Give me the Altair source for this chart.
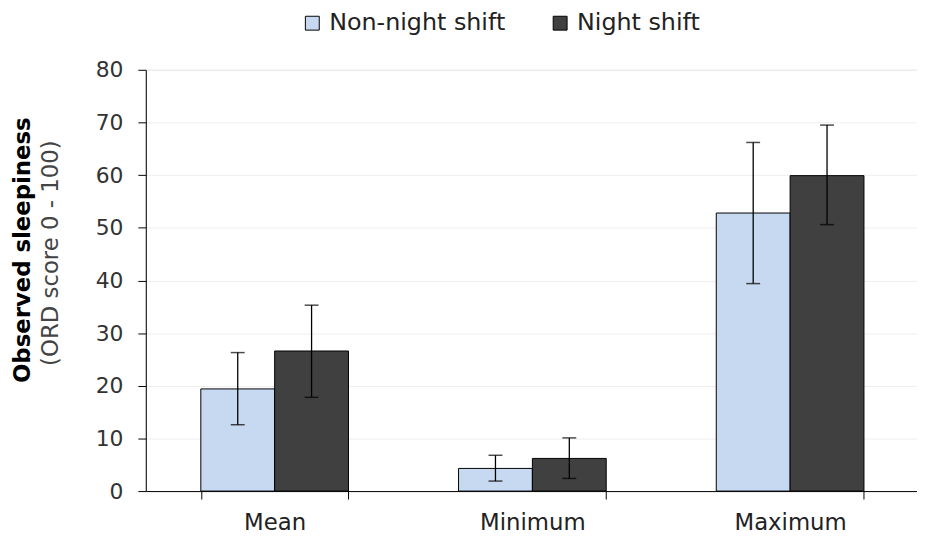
import altair as alt
import pandas as pd

categories = ["Mean", "Minimum", "Maximum"]
groups = ["Non-night shift", "Night shift"]
non_night = [19.4, 4.3, 52.8]
non_night_lo = [12.6, 1.9, 39.4]
non_night_hi = [26.3, 6.8, 66.2]
night = [26.6, 6.2, 59.9]
night_lo = [17.8, 2.4, 50.6]
night_hi = [35.3, 10.1, 69.5]

rows = []
for i, c in enumerate(categories):
    rows.append({"cat": c, "group": groups[0], "v": non_night[i], "lo": non_night_lo[i], "hi": non_night_hi[i]})
    rows.append({"cat": c, "group": groups[1], "v": night[i], "lo": night_lo[i], "hi": night_hi[i]})
df = pd.DataFrame(rows)

FONT = "DejaVu Sans"
W, H = 778, 425

x = alt.X("cat:N", sort=categories, title=None,
          scale=alt.Scale(paddingInner=0.427, paddingOuter=0.2135, range=[0, 780]),
          axis=alt.Axis(labelAngle=0, labelFontSize=23, labelColor="#222", labelFont=FONT,
                        tickBand="extent", tickSize=8, tickColor="black", domainColor="black",
                        labelPadding=13, grid=False))
xo = alt.XOffset("group:N", sort=groups)
y = alt.Y("v:Q", title=None,
          scale=alt.Scale(domain=[0, 80]),
          axis=alt.Axis(values=list(range(0, 81, 10)), labelFontSize=22, labelColor="#333", labelFont=FONT,
                        tickSize=8, tickColor="black", domainColor="black", labelPadding=15,
                        gridColor="#eeeeee", grid=True))

base = alt.Chart(df)
bars = base.mark_bar(stroke="black", strokeWidth=1).encode(
    x=x, xOffset=xo, y=y,
    color=alt.Color("group:N", sort=groups,
                    scale=alt.Scale(domain=groups, range=["#c6d9f1", "#404040"]),
                    legend=alt.Legend(title=None, orient="none", direction="horizontal",
                                      legendX=156, legendY=-59, symbolType="square", symbolSize=196,
                                      symbolStrokeColor="black", symbolStrokeWidth=1,
                                      labelFontSize=24, labelFont=FONT, labelColor="#222",
                                      labelLimit=400, columnPadding=43, labelOffset=5))
)
rules = base.mark_rule(color="black", strokeWidth=1.3).encode(
    x=x, xOffset=xo, y=alt.Y("lo:Q"), y2="hi:Q")
cap_hi = base.mark_tick(color="black", thickness=1.5, size=14, orient="horizontal").encode(
    x=x, xOffset=xo, y=alt.Y("hi:Q"))
cap_lo = base.mark_tick(color="black", thickness=1.5, size=14, orient="horizontal").encode(
    x=x, xOffset=xo, y=alt.Y("lo:Q"))

tdata = alt.Data(values=[{"a": 1}])
title1 = alt.Chart(tdata).mark_text(text="Observed sleepiness", angle=270, fontSize=23,
                                    fontWeight="bold", font=FONT, color="black").encode(
    x=alt.value(-124), y=alt.value(182))
title2 = alt.Chart(tdata).mark_text(text="(ORD score 0 - 100)", angle=270, fontSize=23,
                                    font=FONT, color="#444").encode(
    x=alt.value(-96), y=alt.value(185))

chart = alt.layer(bars, rules, cap_hi, cap_lo, title1, title2).properties(
    width=W, height=H,
    autosize=alt.AutoSizeParams(type="none"),
    padding={"left": 139, "top": 60, "right": 0, "bottom": 45},
).configure_view(stroke=None).configure(background="white")

chart.save("out.html", embed_options={"renderer": "svg", "actions": False})
